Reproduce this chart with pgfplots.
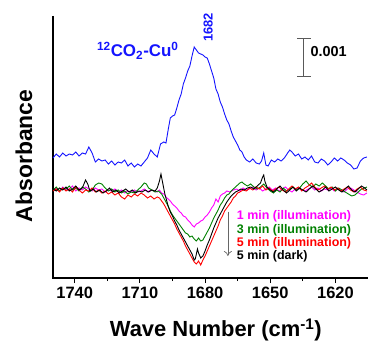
\documentclass[border=0pt]{standalone}
\usepackage{pgfplots}
\pgfplotsset{compat=1.18}
\usetikzlibrary{arrows.meta}
\usepackage{fontspec}
\setmainfont{Liberation Sans}
\definecolor{cblue}{RGB}{20,20,255}
\definecolor{cmag}{RGB}{255,0,255}
\definecolor{cgreen}{RGB}{0,128,0}
\definecolor{cred}{RGB}{255,0,0}
\begin{document}
\begin{tikzpicture}
\begin{axis}[
  scale only axis, width=315bp, height=262bp,
  x dir=reverse, xmin=1605, xmax=1750, ymin=0, ymax=262,
  axis line style={draw=none},
  xtick={1620,1650,1680,1710,1740},
  minor xtick={1635,1665,1695,1725},
  ytick=\empty,
  xtick pos=bottom,
  tick align=outside,
  major tick length=5bp, minor tick length=3bp,
  every tick/.style={black, line width=1pt},
  /pgf/number format/assume math mode=true,
  /pgf/number format/1000 sep={},
  ticklabel style={font=\fontsize{16.5}{18}\selectfont\bfseries},
  xlabel={Wave Number (cm\textsuperscript{-1})},
  xlabel style={font=\fontsize{22}{24}\selectfont\bfseries, at={(axis description cs:0.517,-0.198)}, anchor=center},
  ylabel={Absorbance},
  ylabel style={font=\fontsize{23}{24}\selectfont\bfseries, at={(axis description cs:-0.092,0.466)}, anchor=center, rotate=0},
  clip=false,
  every axis plot/.append style={line width=0.9pt, mark=none},
]
\coordinate (bl) at (axis description cs:0,0);
\draw[line width=1.5pt, black] (axis description cs:0,1) -- (axis description cs:0,0) -- (axis description cs:1,0);

\addplot[cblue] coordinates {
(1750,120) (1748.5,124) (1747,121) (1745.5,125) (1744,122) (1742.5,124) (1741,123) (1739.5,126) (1738,122) (1736.5,125) (1735,124) (1733.5,131) (1732,125) (1730.5,116) (1729,119) (1727.5,117) (1726,118) (1724.5,114) (1723,117) (1721.5,113) (1720,116) (1718.5,115) (1717,118) (1715.5,112) (1714,115) (1712.5,111) (1711,114) (1709.5,112) (1708,116) (1706.5,120) (1705,128) (1703.5,124) (1702,121) (1700.5,134) (1699,136) (1698,135) (1697,148) (1696,160) (1695,162) (1694,163) (1693,170) (1692,178) (1691,184) (1690,194) (1689,200) (1688,207) (1687,212) (1686,222) (1685,231) (1684,228) (1683,225) (1682,224) (1681,223) (1680,221) (1679,220) (1678,214) (1677,207) (1676,200) (1675,189) (1674,184) (1673,176) (1672,171) (1671,164) (1670,158) (1669,154) (1668,147) (1667,141) (1666,137) (1665,133) (1664,128) (1663,126) (1662,121) (1661,118) (1659.5,116) (1658,119) (1656.5,115) (1655,114) (1654,117) (1653,125) (1652,113) (1651,112) (1649.5,118) (1648,116) (1646.5,119) (1645,117) (1643.5,120) (1642,125) (1641,128) (1640,126) (1638.5,122) (1637,124) (1635.5,119) (1634,121) (1632.5,118) (1631,122) (1629.5,116) (1628,115) (1626.5,119) (1625,117) (1623.5,113) (1622,116) (1620.5,120) (1619,117) (1617.5,120) (1616,118) (1614.5,115) (1613,113) (1611.5,109) (1610,110) (1608.5,117) (1607,120) (1605.5,121)
};

\addplot[cmag] coordinates {
(1750,88) (1748.5,90) (1747,87) (1745.5,91) (1744,88) (1742.5,89) (1741,92) (1739.5,87) (1738,90) (1736.5,88) (1735,91) (1733.5,89) (1732,87) (1730.5,90) (1729,88) (1727.5,89) (1726,86) (1724.5,88) (1723,87) (1721.5,89) (1720,86) (1718.5,88) (1717,85) (1715.5,87) (1714,86) (1712.5,88) (1711,86) (1709.5,87) (1708,89) (1706.5,86) (1705,88) (1703.5,87) (1702,86) (1701,88) (1700,85) (1699,84) (1698,81) (1697,79) (1696,77) (1695,74) (1694,72) (1693,70) (1692,67) (1691,65) (1690,62) (1689,61) (1688,58) (1687,56) (1686,53) (1685,51) (1684,54) (1683,55) (1682,57) (1681,58) (1680,61) (1679,63) (1678,66) (1677,70) (1676,73) (1675,79) (1674,76) (1673,82) (1672,84) (1671,85) (1670,87) (1668.5,86) (1667,88) (1665.5,89) (1664,87) (1662.5,90) (1661,88) (1659.5,89) (1658,91) (1656.5,88) (1655,90) (1653.5,87) (1652,89) (1650.5,91) (1649,88) (1647.5,90) (1646,87) (1644.5,89) (1643,91) (1641.5,88) (1640,86) (1638.5,89) (1637,90) (1635.5,88) (1634,87) (1632.5,89) (1631,91) (1629.5,88) (1628,90) (1626.5,87) (1625,89) (1623.5,88) (1622,90) (1620.5,87) (1619,89) (1617.5,88) (1616,86) (1614.5,89) (1613,90) (1611.5,88) (1610,86) (1608.5,84) (1607,83) (1605.5,85)
};

\addplot[cgreen] coordinates {
(1750,88) (1748.5,91) (1747,87) (1745.5,90) (1744,89) (1742.5,92) (1741,88) (1739.5,90) (1738,87) (1736.5,91) (1735,89) (1733.5,86) (1732,88) (1730.5,93) (1729,95) (1727.5,94) (1726,90) (1724.5,87) (1723,89) (1721.5,86) (1720,88) (1718.5,85) (1717,87) (1715.5,84) (1714,86) (1712.5,85) (1711,88) (1709.5,91) (1708,95) (1707,94) (1706,90) (1704.5,88) (1703,86) (1701.5,87) (1700,84) (1699,80) (1698,76) (1697,72) (1696,67) (1695,63) (1694,60) (1693,57) (1692,54) (1691,51) (1690,48) (1689,45) (1688,44) (1687,41) (1686,42) (1685,39) (1684,37) (1683,40) (1682,37) (1681,38) (1680,42) (1679,46) (1678,50) (1677,55) (1676,60) (1675,64) (1674,68) (1673,73) (1672,76) (1671,80) (1670,83) (1669,84) (1668,87) (1667,89) (1666,91) (1665,93) (1664,95) (1663,96) (1662,94) (1660.5,92) (1659,94) (1657.5,91) (1656,89) (1654.5,91) (1653,94) (1651.5,90) (1650,87) (1648.5,85) (1647,88) (1645.5,86) (1644,90) (1642.5,87) (1641,89) (1639.5,91) (1638,88) (1636.5,90) (1635,94) (1633.5,97) (1632,93) (1630.5,91) (1629,94) (1627.5,92) (1626,95) (1624.5,92) (1623,89) (1621.5,91) (1620,87) (1618.5,90) (1617,88) (1615.5,86) (1614,84) (1612.5,82) (1611,83) (1609.5,86) (1608,89) (1606.5,90) (1605.5,91)
};

\addplot[cred] coordinates {
(1750,87) (1748.5,89) (1747,86) (1745.5,90) (1744,87) (1742.5,89) (1741,86) (1739.5,91) (1738,88) (1736.5,85) (1735,88) (1733.5,87) (1732,90) (1730.5,86) (1729,88) (1727.5,85) (1726,87) (1724.5,84) (1723,86) (1721.5,83) (1720,85) (1718.5,81) (1717,79) (1715.5,83) (1714,81) (1712.5,84) (1711,82) (1709.5,85) (1708,83) (1706.5,80) (1705,82) (1703.5,79) (1702,81) (1701,80) (1700,77) (1699,74) (1698,70) (1697,66) (1696,62) (1695,58) (1694,54) (1693,49) (1692,45) (1691,41) (1690,37) (1689,32) (1688,28) (1687,24) (1686,20) (1685,16) (1684,14) (1683,17) (1682,13) (1681,18) (1680,22) (1679,27) (1678,32) (1677,37) (1676,42) (1675,47) (1674,52) (1673,58) (1672,62) (1671,67) (1670,70) (1669,73) (1668,76) (1667,80) (1666,82) (1665,85) (1664,86) (1662.5,88) (1661,87) (1659.5,90) (1658,88) (1656.5,91) (1655,89) (1653.5,92) (1652,88) (1650.5,90) (1649,87) (1647.5,89) (1646,91) (1644.5,88) (1643,86) (1641.5,89) (1640,92) (1638.5,89) (1637,91) (1635.5,87) (1634,90) (1632.5,92) (1631,95) (1629.5,91) (1628,88) (1626.5,90) (1625,92) (1623.5,89) (1622,91) (1620.5,88) (1619,90) (1617.5,87) (1616,89) (1614.5,91) (1613,88) (1611.5,86) (1610,89) (1608.5,91) (1607,88) (1605.5,87)
};

\addplot[black] coordinates {
(1750,89) (1748.5,87) (1747,90) (1745.5,88) (1744,91) (1742.5,87) (1741,89) (1739.5,92) (1738,88) (1736.5,90) (1735,98) (1734,94) (1733,87) (1731.5,89) (1730,86) (1728.5,88) (1727,85) (1725.5,87) (1724,90) (1722.5,86) (1721,88) (1719.5,85) (1718,87) (1716.5,89) (1715,86) (1713.5,88) (1712,85) (1710.5,87) (1709,86) (1707.5,88) (1706,86) (1704.5,88) (1703,87) (1702,90) (1701,97) (1700.3,104) (1699.5,95) (1698.5,84) (1697.5,76) (1697,72) (1696,66) (1695,62) (1694,57) (1693,53) (1692,48) (1691,44) (1690,40) (1689,36) (1688,32) (1687,28) (1686,24) (1685.5,21) (1685,18) (1684.5,19) (1684,24) (1683.5,29) (1683,25) (1682,20) (1681,22) (1680,27) (1679,33) (1678,38) (1677,44) (1676,50) (1675,55) (1674,60) (1673,64) (1672,68) (1671,72) (1670,76) (1669,79) (1668,82) (1667,84) (1666,86) (1665,87) (1663.5,89) (1662,88) (1660.5,90) (1659,91) (1657.5,89) (1656,92) (1654.5,95) (1653.5,101) (1653,103) (1652.5,97) (1651.5,91) (1650,88) (1648.5,86) (1647,89) (1645.5,92) (1644,88) (1642.5,85) (1641,88) (1639.5,91) (1638,87) (1636.5,90) (1635,88) (1633.5,86) (1632,89) (1630.5,92) (1629,89) (1627.5,86) (1626,88) (1624.5,91) (1623,87) (1621.5,89) (1620,91) (1618.5,88) (1617,86) (1615.5,89) (1614,92) (1612.5,88) (1611,86) (1609.5,89) (1608,92) (1606.5,90) (1605.5,88)
};

% annotations
\node[anchor=base west, text=cblue, font=\fontsize{17}{20}\selectfont\bfseries, inner sep=0pt]
  at (axis cs:1729.8,221.3) {\textsuperscript{12}CO\textsubscript{2}-Cu\textsuperscript{0}};
\node[rotate=90, text=cblue, font=\fontsize{13}{15}\selectfont\bfseries, inner sep=0pt]
  at (axis cs:1678.6,250.5) {1682};
\draw[line width=0.8pt, black!65] (axis cs:1634.6,239.7) -- (axis cs:1634.6,201.3);
\draw[line width=0.8pt, black!65] (axis cs:1637.5,239.7) -- (axis cs:1631.2,239.7);
\draw[line width=0.8pt, black!65] (axis cs:1637.5,201.3) -- (axis cs:1631.2,201.3);
\node[anchor=west, font=\fontsize{14.5}{16}\selectfont\bfseries, inner sep=0pt]
  at (axis cs:1631.5,226.3) {0.001};
\draw[line width=0.7pt, black!60, -{To[length=5pt,width=8pt]}] (axis cs:1669.5,66.3) -- (axis cs:1669.5,22);
\node[anchor=west, text=cmag, font=\fontsize{12.5}{14}\selectfont\bfseries, inner sep=0pt]
  at (axis cs:1665.4,61.3) {1 min (illumination)};
\node[anchor=west, text=cgreen, font=\fontsize{12.5}{14}\selectfont\bfseries, inner sep=0pt]
  at (axis cs:1665.4,48) {3 min (illumination)};
\node[anchor=west, text=cred, font=\fontsize{12.5}{14}\selectfont\bfseries, inner sep=0pt]
  at (axis cs:1665.4,34.7) {5 min (illumination)};
\node[anchor=west, text=black, font=\fontsize{12.5}{14}\selectfont\bfseries, inner sep=0pt]
  at (axis cs:1665.4,21.3) {5 min (dark)};
\end{axis}
\pgfresetboundingbox
\path[use as bounding box] ([shift={(-53bp,-64bp)}]bl) rectangle ([shift={(315bp,278bp)}]bl);
\end{tikzpicture}
\end{document}
